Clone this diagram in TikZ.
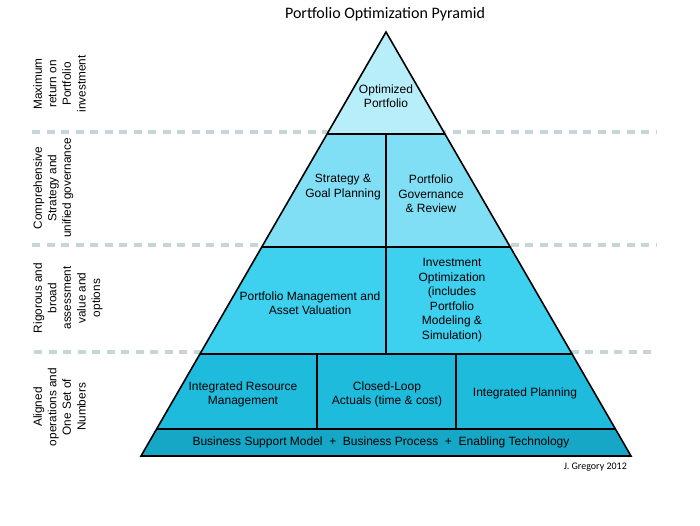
\documentclass[tikz,border=0pt]{standalone}
\usepackage{fontspec}
\setmainfont{Liberation Sans}
\newfontfamily\carlito{Carlito}
\definecolor{tierA}{HTML}{B7EEF9}
\definecolor{tierB}{HTML}{80DFF4}
\definecolor{tierC}{HTML}{3DD0EF}
\definecolor{tierD}{HTML}{1EBBDD}
\definecolor{tierE}{HTML}{16A7C7}
\definecolor{dashcol}{HTML}{C6D5D8}
\begin{document}
\begin{tikzpicture}[x=1pt,y=-1pt,
  sepline/.style={draw=dashcol,line width=4pt,dash pattern=on 8pt off 6.5pt},
  edge/.style={draw=black,line width=1.3pt},
  outline/.style={draw=black,line width=1.6pt,line join=miter},
  boxtext/.style={align=center,font=\fontsize{12}{14.5}\selectfont,inner sep=0pt},
  sidelabel/.style={rotate=90,anchor=north,align=center,font=\fontsize{11.8}{14.6}\selectfont,inner sep=0pt},
]
\fill[white] (0,0) rectangle (700,525);
\useasboundingbox (0,0) rectangle (700,525);
% separators
\coordinate (s1a) at (32,132); \coordinate (s1b) at (656,132);
\coordinate (s2a) at (32,245); \coordinate (s2b) at (656,245);
\coordinate (s3a) at (34,352); \coordinate (s3b) at (656,352);
\draw[sepline] (s1a) -- (s1b);
\draw[sepline] (s2a) -- (s2b);
\draw[sepline] (s3a) -- (s3b);
% pyramid corners
\coordinate (A) at (386,32);
\coordinate (L1) at (327.1,134); \coordinate (R1) at (444.9,134);
\coordinate (L2) at (261.8,247); \coordinate (R2) at (510.2,247);
\coordinate (L3) at (199.9,354); \coordinate (R3) at (572.1,354);
\coordinate (L4) at (156.6,429); \coordinate (R4) at (615.4,429);
\coordinate (L5) at (141,456); \coordinate (R5) at (631,456);
\fill[tierA] (A) -- (R1) -- (L1) -- cycle;
\fill[tierB] (L1) -- (R1) -- (R2) -- (L2) -- cycle;
\fill[tierC] (L2) -- (R2) -- (R3) -- (L3) -- cycle;
\fill[tierD] (L3) -- (R3) -- (R4) -- (L4) -- cycle;
\fill[tierE] (L4) -- (R4) -- (R5) -- (L5) -- cycle;
% dividers
\coordinate (d1t) at (386,134); \coordinate (d1b) at (386,354);
\coordinate (d2t) at (317,354); \coordinate (d2b) at (317,429);
\coordinate (d3t) at (456,354); \coordinate (d3b) at (456,429);
\draw[edge] (L1) -- (R1);
\draw[edge] (L2) -- (R2);
\draw[edge] (L3) -- (R3);
\draw[edge] (L4) -- (R4);
\draw[edge] (d1t) -- (d1b);
\draw[edge] (d2t) -- (d2b);
\draw[edge] (d3t) -- (d3b);
\draw[outline] (A) -- (R5) -- (L5) -- cycle;
% texts
\node[font=\carlito\fontsize{16}{18}\selectfont] (title) at (385,14) {Portfolio Optimization Pyramid};
\node[boxtext] (opt) at (386,96) {Optimized\\Portfolio};
\node[boxtext] (strat) at (343,187) {Strategy \&\\Goal Planning};
\node[boxtext] (gov) at (431,194) {Portfolio\\Governance\\\& Review};
\node[boxtext] (pm) at (310,303) {Portfolio Management and\\Asset Valuation};
\node[boxtext] (inv) at (452,300) {Investment\\Optimization\\(includes\\Portfolio\\Modeling \&\\Simulation)};
\node[boxtext] (irm) at (243,394.5) {Integrated Resource\\Management};
\node[boxtext] (cl) at (387,394.5) {Closed-Loop\\Actuals (time \& cost)};
\node[boxtext] (ip) at (525,393) {Integrated Planning};
\node[boxtext] (base) at (381,442.5) {Business Support Model~~+~~Business Process~~+~~Enabling Technology};
\node[font=\carlito\fontsize{10}{11}\selectfont,anchor=east,inner sep=0pt] (credit) at (627,467) {J. Gregory 2012};
% side labels
\node[sidelabel] (lab1) at (33,84) {Maximum\\return on\\Portfolio\\investment};
\node[sidelabel] (lab2) at (33,188) {Comprehensive\\Strategy and\\unified governance};
\node[sidelabel] (lab3) at (33,298) {Rigorous and\\broad\\assessment\\value and\\options};
\node[sidelabel] (lab4) at (33,407) {Aligned\\operations and\\One Set of\\Numbers};
\end{tikzpicture}
\end{document}
